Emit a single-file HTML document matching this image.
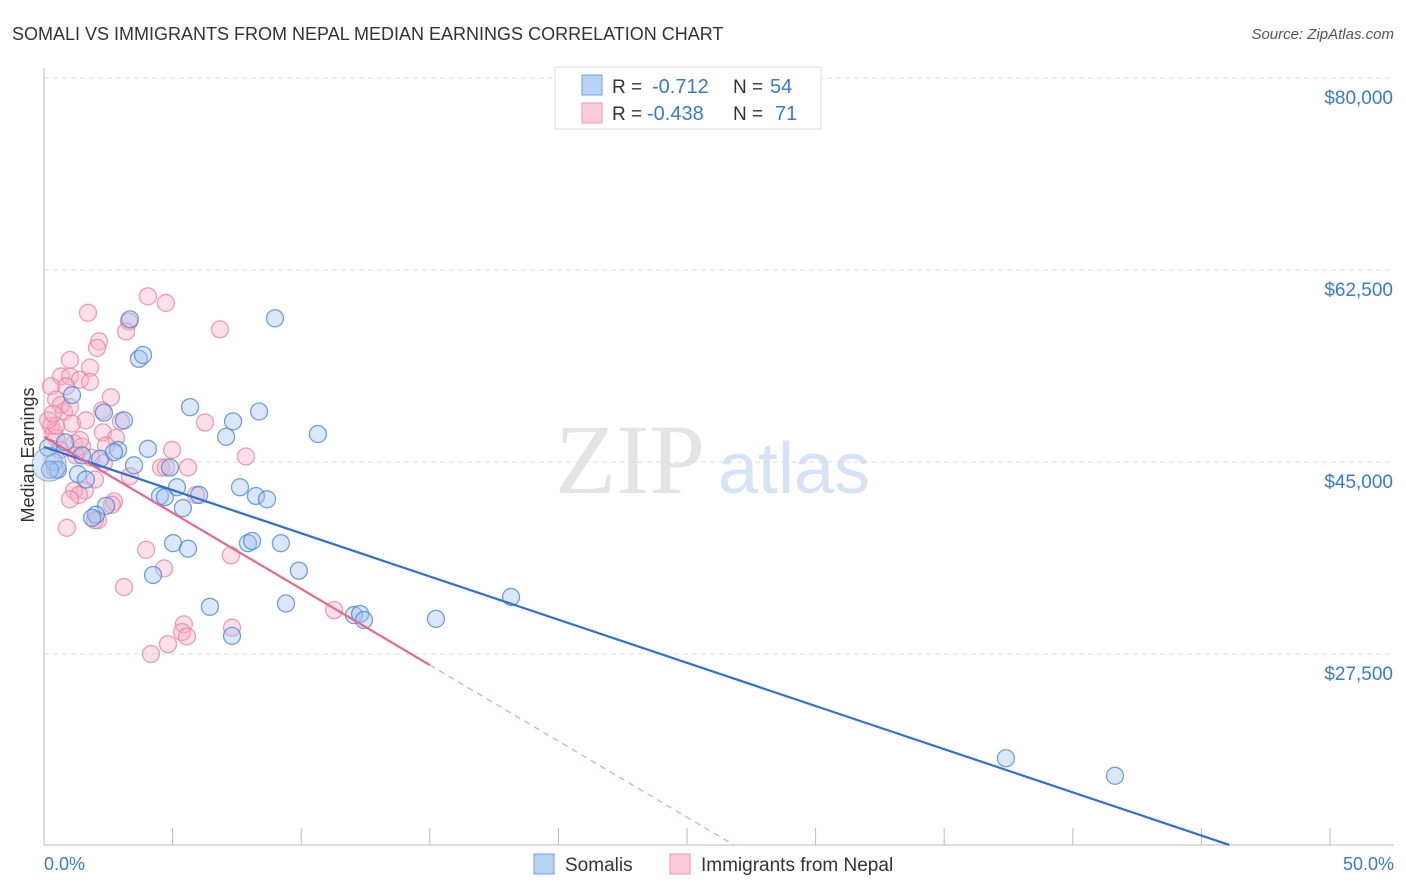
<!DOCTYPE html>
<html><head><meta charset="utf-8">
<style>
body{margin:0;background:#fff;font-family:"Liberation Sans",sans-serif;}
svg{display:block}
</style></head><body>
<svg id="chart" width="1406" height="892" xmlns="http://www.w3.org/2000/svg">
<text x="12" y="40" font-size="18" fill="#333">SOMALI VS IMMIGRANTS FROM NEPAL MEDIAN EARNINGS CORRELATION CHART</text>
<text x="1394" y="39" font-size="15" fill="#555" font-style="italic" text-anchor="end">Source: ZipAtlas.com</text>
<text x="555" y="493" font-size="100" fill="#e4e4e4" font-family="Liberation Serif">ZIP</text>
<text x="718" y="493" font-size="72" fill="#d5e3f5">atlas</text>
<g id="grid"></g>
<g id="axes"></g>
<g id="marks"></g>
<text transform="translate(34,455) rotate(-90)" font-size="18" fill="#333" text-anchor="middle">Median Earnings</text>
<text x="44" y="870" font-size="18" fill="#3b78d8">0.0%</text>
<text x="1394" y="870" font-size="18" fill="#3b78d8" text-anchor="end">50.0%</text>
<g>
<rect x="555" y="67" width="266" height="62" fill="#fff" stroke="#ddd"/>
<rect x="582" y="75" width="20" height="20" fill="#b8d3f5" stroke="#6fa0e0"/>
<rect x="582" y="103" width="20" height="20" fill="#fdcad8" stroke="#ee9ab4"/>
<text x="612" y="93" font-size="19" fill="#333">R = </text><text x="652" y="93" font-size="20" fill="#3b78d8">-0.712</text>
<text x="733" y="93" font-size="19" fill="#333">N = </text><text x="770" y="93" font-size="20" fill="#3b78d8">54</text>
<text x="612" y="120" font-size="19" fill="#333">R = </text><text x="647" y="120" font-size="20" fill="#3b78d8">-0.438</text>
<text x="733" y="120" font-size="19" fill="#333">N = </text><text x="775" y="120" font-size="20" fill="#3b78d8">71</text>
</g>
<g>
<rect x="534" y="854" width="20" height="20" fill="#b8d3f5" stroke="#6fa0e0"/>
<text x="565" y="871" font-size="19" fill="#333">Somalis</text>
<rect x="670" y="854" width="20" height="20" fill="#fdcad8" stroke="#ee9ab4"/>
<text x="701" y="871" font-size="19" fill="#333">Immigrants from Nepal</text>
</g>
</svg>
<script>
const yTicks=[80000,62500,45000,27500];
const yTickLabels=["$80,000","$62,500","$45,000","$27,500"];
const xTicks=[0,5,10,15,20,25,30,35,40,45,50];
const somaliX=[3.34,3.69,3.85,8.98,5.68,7.35,8.36,7.08,10.65,3.11,1.09,2.33,4.04,2.88,1.48,2.18,2.72,0.39,0.54,1.32,1.63,3.50,4.90,4.51,4.70,5.40,5.17,6.03,7.62,8.24,8.67,2.41,2.02,1.87,5.02,5.60,4.24,7.93,8.09,9.21,9.91,6.45,9.41,12.05,12.29,12.44,15.24,18.16,7.31,37.40,41.64,0.82,0.16,0.23];
const somaliY=[58.0,54.4,54.75,58.1,50.0,48.7,49.6,47.3,47.55,48.8,51.1,49.5,46.2,46.1,45.6,45.3,45.9,45.0,44.3,43.9,43.4,44.7,44.5,41.9,41.8,40.8,42.7,42.0,42.7,41.9,41.6,41.0,40.2,39.9,37.6,37.1,34.7,37.6,37.8,37.6,35.1,31.8,32.1,31.05,31.15,30.6,30.7,32.7,29.15,18.0,16.4,46.8,46.3,44.3];
const nepalX=[1.71,4.04,4.74,3.30,3.19,6.84,2.14,2.06,1.01,1.79,0.66,1.01,1.40,1.79,0.86,0.27,0.47,2.60,0.66,0.78,1.01,2.26,2.99,0.27,0.39,0.47,1.17,1.48,2.29,2.80,6.26,4.98,7.85,1.24,1.83,2.33,3.34,4.55,4.74,1.98,1.59,1.17,1.36,1.01,2.72,2.64,2.10,0.89,3.97,7.27,3.11,4.67,4.16,4.82,5.44,5.37,5.56,7.31,11.28,0.47,0.16,0.62,1.09,0.43,1.40,1.63,2.41,5.91,5.60,1.98,0.35];
const nepalY=[58.6,60.1,59.5,57.8,56.9,57.1,56.0,55.4,54.3,53.6,52.8,52.8,52.5,52.3,51.9,51.9,50.7,50.9,50.2,49.6,50.0,49.7,48.7,48.3,47.7,47.2,46.7,46.4,47.7,47.2,48.6,46.1,45.5,45.6,45.4,44.9,43.7,44.5,44.5,43.4,42.4,42.4,42.0,41.6,41.4,41.1,39.7,39.0,37.0,36.5,33.6,35.3,27.5,28.4,30.2,29.5,29.1,29.9,31.5,48.3,48.8,46.1,48.5,44.3,47.0,48.8,46.5,42.0,44.5,39.7,49.4];
const somaliTrend=[46.37,-0.787];
const nepalTrend=[47.3,-1.387];
const NS="http://www.w3.org/2000/svg";
const X=v=>44+v*25.72;
const Y=k=>462-(k-45)*192/17.5;
function mk(tag,attrs,parent){const e=document.createElementNS(NS,tag);for(const k in attrs)e.setAttribute(k,attrs[k]);parent.appendChild(e);return e;}
const grid=document.getElementById('grid'),axes=document.getElementById('axes'),marks=document.getElementById('marks');
yTicks.forEach((t,i)=>{
 const y=Y(t/1000);
 const l=mk('line',{x1:44,x2:1394,y1:y,y2:y,stroke:'#ddd','stroke-dasharray':'5,4'},grid);
 
 
 const tx=mk('text',{x:1393,y:y+26,'font-size':19,fill:'#3b78d8','text-anchor':'end'},grid);
 tx.textContent=yTickLabels[i];
 
 
});
const xa=mk('line',{x1:44,x2:1394,y1:845,y2:845,stroke:'#bbb'},axes);


const ya=mk('line',{x1:44,x2:44,y1:68,y2:845,stroke:'#bbb'},axes);


xTicks.forEach(t=>{
 const x=X(t);
 const l=mk('line',{x1:x,x2:x,y1:828,y2:845,stroke:'#bbb'},axes);
 
 
});
function pts(xs,ys,fill,stroke,name){
 xs.forEach((v,i)=>{
  const c=mk('circle',{cx:X(v),cy:Y(ys[i]),r:8.5,fill:fill,stroke:stroke,'stroke-width':1.3},marks);
  
  
 });
}
pts(nepalX,nepalY,'rgba(248,175,198,0.4)','rgba(232,130,160,0.75)','nepal-point');
pts(somaliX,somaliY,'rgba(160,195,240,0.4)','rgba(70,130,215,0.75)','somali-point');
const big=mk('circle',{cx:X(0.2),cy:Y(44.8),r:17,fill:'rgba(160,195,240,0.4)',stroke:'rgba(70,130,215,0.6)'},marks);


function yAt(tr,x){return tr[0]+tr[1]*x;}
const bEnd=(10.1-somaliTrend[0])/somaliTrend[1];
const bl=mk('line',{x1:X(0),y1:Y(yAt(somaliTrend,0)),x2:X(bEnd),y2:Y(yAt(somaliTrend,bEnd)),stroke:'#2f6fd6','stroke-width':2.2},marks);


const pl=mk('line',{x1:X(0),y1:Y(yAt(nepalTrend,0)),x2:X(15),y2:Y(yAt(nepalTrend,15)),stroke:'#e8658e','stroke-width':2.2},marks);


const pEnd=(10.1-nepalTrend[0])/nepalTrend[1];
const pd=mk('line',{x1:X(15),y1:Y(yAt(nepalTrend,15)),x2:X(pEnd),y2:Y(yAt(nepalTrend,pEnd)),stroke:'#eea0b8','stroke-width':1.2,'stroke-dasharray':'6,5'},marks);


</script>
</body></html>
